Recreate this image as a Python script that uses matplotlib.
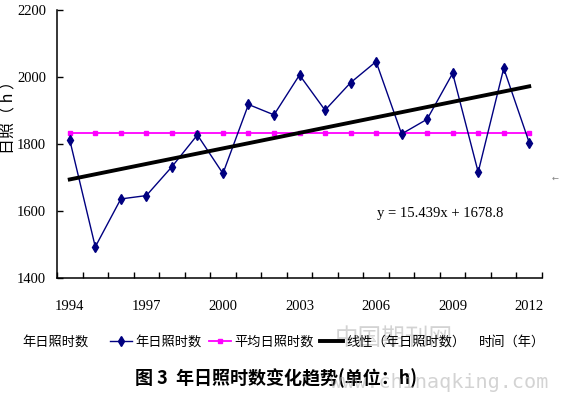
import numpy as np
import matplotlib
matplotlib.use("Agg")
import matplotlib.pyplot as plt

plt.rcParams['font.family'] = ['Noto Sans CJK SC', 'DejaVu Sans']

# Annual sunshine hours, 1994-2012
years = list(range(1994, 2013))
hours = [1812, 1493, 1636, 1646, 1732, 1827, 1712, 1918, 1887, 2006,
         1901, 1983, 2046, 1830, 1874, 2011, 1716, 2026, 1804]
avg_hours = 1833.2
# Linear fit shown on the chart: y = 15.439x + 1678.8 (x = 1..19)
slope = 15.439
intercept = 1678.8
year_labels = ['1994', '1997', '2000', '2003', '2006', '2009', '2012']

NUM_FONT = 'Liberation Serif'
NAVY = '#000080'
PINK = '#FF00FF'

x = np.arange(1, len(years) + 1)

fig = plt.figure(figsize=(5.61, 3.94), dpi=100)
ax = fig.add_axes([57 / 561, 1 - 278 / 394, 485 / 561, 268 / 394])

l1, = ax.plot(x, hours, color=NAVY, lw=1, marker='d', markersize=5.5,
              markerfacecolor=NAVY, markeredgecolor=NAVY, zorder=4)
l2, = ax.plot(x, [avg_hours] * len(x), color=PINK, lw=1.3, marker='s',
              markersize=2.5, zorder=3)
l3, = ax.plot(x, slope * x + intercept, color='black', lw=2.8, zorder=5)

ax.set_xlim(0.5, len(years) + 0.5)
ax.set_ylim(1400, 2200)

# category axis: ticks between categories, labels every third year
ax.set_xticks(np.arange(0.5, len(years) + 1, 1))
ax.set_xticklabels([])
ax.set_xticks(x[::3], minor=True)
ax.set_xticklabels(year_labels, minor=True, family=NUM_FONT, fontsize=10.5)
ax.tick_params(axis='x', which='major', direction='in', length=4.5, width=1)
ax.tick_params(axis='x', which='minor', length=0, pad=16)

ax.set_yticks([1400, 1600, 1800, 2000, 2200])
ax.set_yticklabels(['1400', '1600', '1800', '2000', '2200'],
                   family=NUM_FONT, fontsize=10.5)
ax.tick_params(axis='y', direction='in', length=4, width=1, pad=8)

for side in ['top', 'right']:
    ax.spines[side].set_visible(False)
for side in ['left', 'bottom']:
    ax.spines[side].set_linewidth(1.1)

fig.text(377 / 561, 1 - 214 / 394, 'y = 15.439x + 1678.8',
         family=NUM_FONT, fontsize=10.5, va='center', ha='left')

fig.text(9 / 561, 1 - 113 / 394, '日照（ h ）', rotation=90,
         fontsize=11.5, va='center', ha='center')

# legend row
fig.text(22 / 561, 1 - 342 / 394, '年日照时数', fontsize=9.5,
         va='center', ha='left')
fig.legend([l1, l2, l3], ['年日照时数', '平均日照时数', '线性（年日照时数）'],
           loc='center left', bbox_to_anchor=(110 / 561, 1 - 342 / 394),
           ncol=3, frameon=False, fontsize=9.5, borderpad=0,
           borderaxespad=0, handlelength=1.7, handletextpad=0.25,
           columnspacing=0.5)
fig.text(479 / 561, 1 - 342 / 394, '时间（年）', fontsize=9.5,
         va='center', ha='left')

fig.text(276 / 561, 1 - 378 / 394, '图 3  年日照时数变化趋势(单位：h)',
         fontsize=13, fontweight='bold', va='center', ha='center')

# watermark and stray mark from the source page
fig.text(335 / 561, 1 - 338 / 394, '中国期刊网', fontsize=17,
         color='#b0b0b0', alpha=0.55, va='center', ha='left')
fig.text(330 / 561, 1 - 382 / 394, 'www.chinaqking.com', fontsize=14.5,
         color='#b0b0b0', alpha=0.55, va='center', ha='left',
         family='DejaVu Sans Mono')
fig.text(555 / 561, 1 - 178 / 394, '←', fontsize=6, color='#808080',
         va='center', ha='center', family='DejaVu Sans')

fig.savefig('out.png', dpi=100)
